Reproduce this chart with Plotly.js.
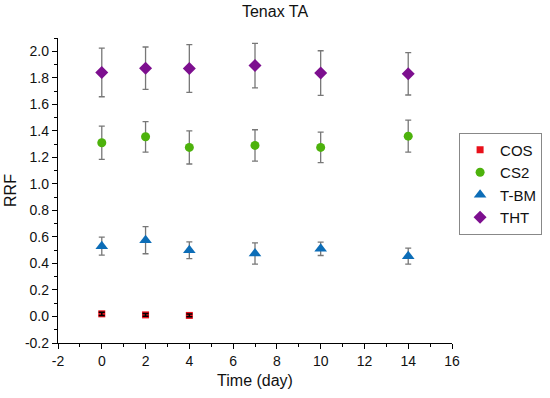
<!DOCTYPE html>
<html><head><meta charset="utf-8">
<script src="https://cdn.plot.ly/plotly-3.0.1.min.js"></script>
<style>html,body{margin:0;padding:0;background:#fff}#c{width:550px;height:398px}</style>
</head><body><div id="c"></div>
<script>
const days = [0, 2, 4, 7, 10, 14];
const cosDays = [0, 2, 4];
const cosVal = [0.02, 0.012, 0.008];
const cosErr = [0.012, 0.01, 0.01];
const cs2Val = [1.31, 1.355, 1.275, 1.29, 1.275, 1.36];
const cs2Err = [0.125, 0.115, 0.125, 0.118, 0.115, 0.12];
const tbmVal = [0.53, 0.575, 0.50, 0.475, 0.51, 0.455];
const tbmErr = [0.068, 0.102, 0.063, 0.08, 0.05, 0.06];
const thtVal = [1.84, 1.872, 1.87, 1.892, 1.836, 1.83];
const thtErr = [0.183, 0.16, 0.18, 0.168, 0.168, 0.16];
const xTickVals = [-2, 0, 2, 4, 6, 8, 10, 12, 14, 16];
const xTickText = ['-2', '0', '2', '4', '6', '8', '10', '12', '14', '16'];
const yTickVals = [-0.2, 0, 0.2, 0.4, 0.6, 0.8, 1.0, 1.2, 1.4, 1.6, 1.8, 2.0];
const yTickText = ['-0.2', '0.0', '0.2', '0.4', '0.6', '0.8', '1.0', '1.2', '1.4', '1.6', '1.8', '2.0'];

function tr(name, x, y, e, color, symbol, size, ecol) {
  return {type:'scatter', mode:'markers', name:name, x:x, y:y,
    marker:{color:color, symbol:symbol, size:size},
    error_y:{type:'data', array:e, visible:true, color:ecol, thickness:1.3, width:3}};
}
const data = [
  tr('COS', cosDays, cosVal, cosErr, '#e8101a', 'square', 7, '#000'),
  tr('CS2', days, cs2Val, cs2Err, '#4db20c', 'circle', 9, '#777'),
  tr('T-BM', days, tbmVal, tbmErr, '#0c6db7', 'triangle-up', 11, '#777'),
  tr('THT', days, thtVal, thtErr, '#7d0f8f', 'diamond', 10, '#777'),
  {type:'scatter', mode:'markers', x:cosDays, y:cosVal, showlegend:false,
    marker:{size:1, opacity:0},
    error_y:{type:'data', array:cosErr, visible:true, color:'#000', thickness:1.5, width:3}}
];
const font = {family:'Liberation Sans, Arial, sans-serif', color:'#111'};
const layout = {
  width:550, height:398,
  margin:{l:58, r:98, t:38, b:55, autoexpand:false},
  paper_bgcolor:'#fff', plot_bgcolor:'#fff',
  font:Object.assign({size:14}, font),
  title:{text:'Tenax TA', x:0.5, xanchor:'center', y:0.985, yanchor:'top', font:Object.assign({size:16}, font)},
  showlegend:true,
  legend:{x:1.018, xanchor:'left', y:0.69, yanchor:'top', bordercolor:'#888', borderwidth:1,
    bgcolor:'#fff', font:Object.assign({size:15}, font), itemwidth:30, tracegroupgap:0},
  xaxis:{range:[-2,16], tickmode:'array', tickvals:xTickVals, ticktext:xTickText, showgrid:false, zeroline:false,
    showline:true, linecolor:'#000', linewidth:1.2, ticks:'outside', ticklen:5, tickcolor:'#000',
    minor:{dtick:1, tick0:0, ticks:'outside', ticklen:3, tickcolor:'#000', showgrid:false},
    tickfont:Object.assign({size:14}, font),
    title:{text:'Time (day)', font:Object.assign({size:16}, font), standoff:6}},
  yaxis:{range:[-0.2,2.1], tickmode:'array', tickvals:yTickVals, ticktext:yTickText, showgrid:false, zeroline:false,
    showline:true, linecolor:'#000', linewidth:1.2, ticks:'outside', ticklen:5, tickcolor:'#000',
    minor:{dtick:0.1, tick0:0, ticks:'outside', ticklen:3, tickcolor:'#000', showgrid:false},
    tickfont:Object.assign({size:14}, font),
    title:{text:'RRF', font:Object.assign({size:16}, font), standoff:4}}
};
Plotly.newPlot('c', data, layout, {displayModeBar:false, staticPlot:true});
</script></body></html>
